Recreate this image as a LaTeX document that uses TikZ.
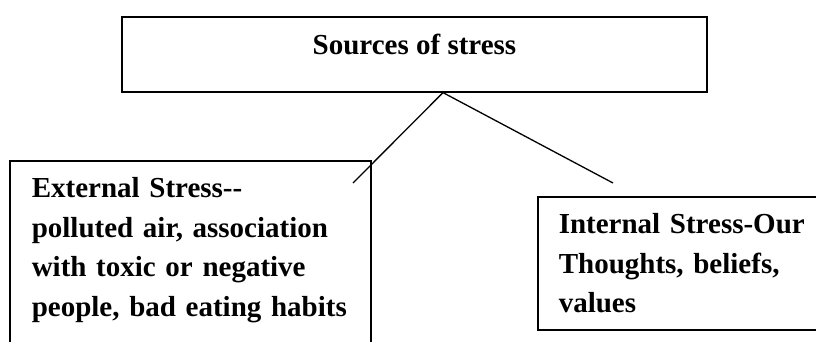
\documentclass[tikz,border=0pt]{standalone}
\usepackage{fontspec}
\setmainfont{Liberation Serif}
\usetikzlibrary{positioning}
\usetikzlibrary{calc}

\begin{document}
\begin{tikzpicture}[x=1pt,y=-1pt,line width=1.3pt,
		font=\bfseries\fontsize{29}{39.5}\selectfont]
		\tikzstyle{box}=[draw,line width=1.6pt,rectangle,align=left,inner xsep=22pt,inner ysep=17pt]
		
		\useasboundingbox (0,0) rectangle (816,341);
		\clip (0,0) rectangle (816,341);
		
		\node[box, anchor=north, minimum width=585pt, inner xsep=0pt, inner ysep=17.5pt,
		text height=20pt, text depth=20pt, align=center] (Sources) at (414.5,16) {Sources of stress};
		\node[box, anchor=north west, text width=317pt, text depth=170pt] (External) at (9,160)
		{External Stress\mbox{-}\mbox{-}\\polluted air, association\\with toxic or negative\\people, bad eating habits};
		\node[box, anchor=north west, text width=300pt, inner xsep=21pt] (Internal) at (537,196)
		{Internal Stress-Our\\Thoughts, beliefs,\\values};
		
		\coordinate (fork) at ($(Sources.south)+(28.5,0)$);
		\coordinate (ExternalEnd) at (353,183);
		\coordinate (InternalEnd) at (613,183);
		
		\path (fork) edge (ExternalEnd)
		(fork) edge (InternalEnd);
\end{tikzpicture}
\end{document}
